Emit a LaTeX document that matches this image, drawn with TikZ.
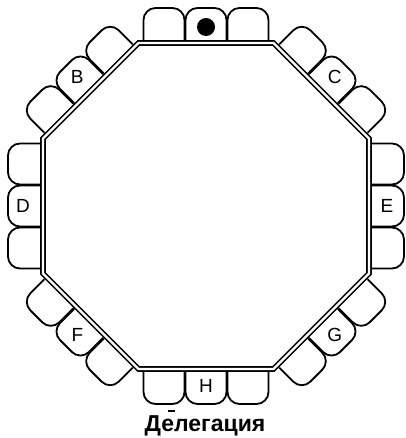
\documentclass[tikz,border=0pt]{standalone}
\usepackage{fontspec}
\setmainfont{Liberation Sans}
\begin{document}
\begin{tikzpicture}[x=1pt,y=1pt,
  chair/.style={line width=1.8pt, rounded corners=12pt},
  table/.style={double, line width=1.6pt, double distance=2.4pt, line join=miter},
  lbl/.style={font=\fontsize{19}{19}\selectfont, inner sep=0pt}]
\useasboundingbox (0,0) rectangle (405,438);
\coordinate (C) at (206,232);
\begin{scope}[shift={(C)}]
  \draw[table] (22.5:176.4) -- (67.5:176.4) -- (112.5:176.4) -- (157.5:176.4) -- (202.5:176.4) -- (247.5:176.4) -- (292.5:176.4) -- (337.5:176.4) -- cycle;
  \foreach \a in {0,45,...,315}{
    \begin{scope}[rotate=\a-90]
      \foreach \t in {-42,0,42}
        \draw[chair] (\t-20.5,166) -- (\t-20.5,198) -- (\t+20.5,198) -- (\t+20.5,166);
    \end{scope}
  }
  \fill (90:179) circle (9pt);
  \node[lbl] (B) at (135:182) {B};
  \node[lbl] (Cl) at (45:182) {C};
  \node[lbl] (D) at (180:183) {D};
  \node[lbl] (E) at (0:181) {E};
  \node[lbl] (F) at (225:182) {F};
  \node[lbl] (G) at (-45:182) {G};
  \node[lbl] (H) at (-90:180) {H};
\end{scope}
\node[font=\bfseries\fontsize{23}{23}\selectfont, inner sep=0pt, anchor=base] (title) at (205,6) {Делегация};
\draw[line width=1.5pt] ([xshift=24pt,yshift=21pt]title.base west) -- ++(7pt,0);
\end{tikzpicture}
\end{document}
